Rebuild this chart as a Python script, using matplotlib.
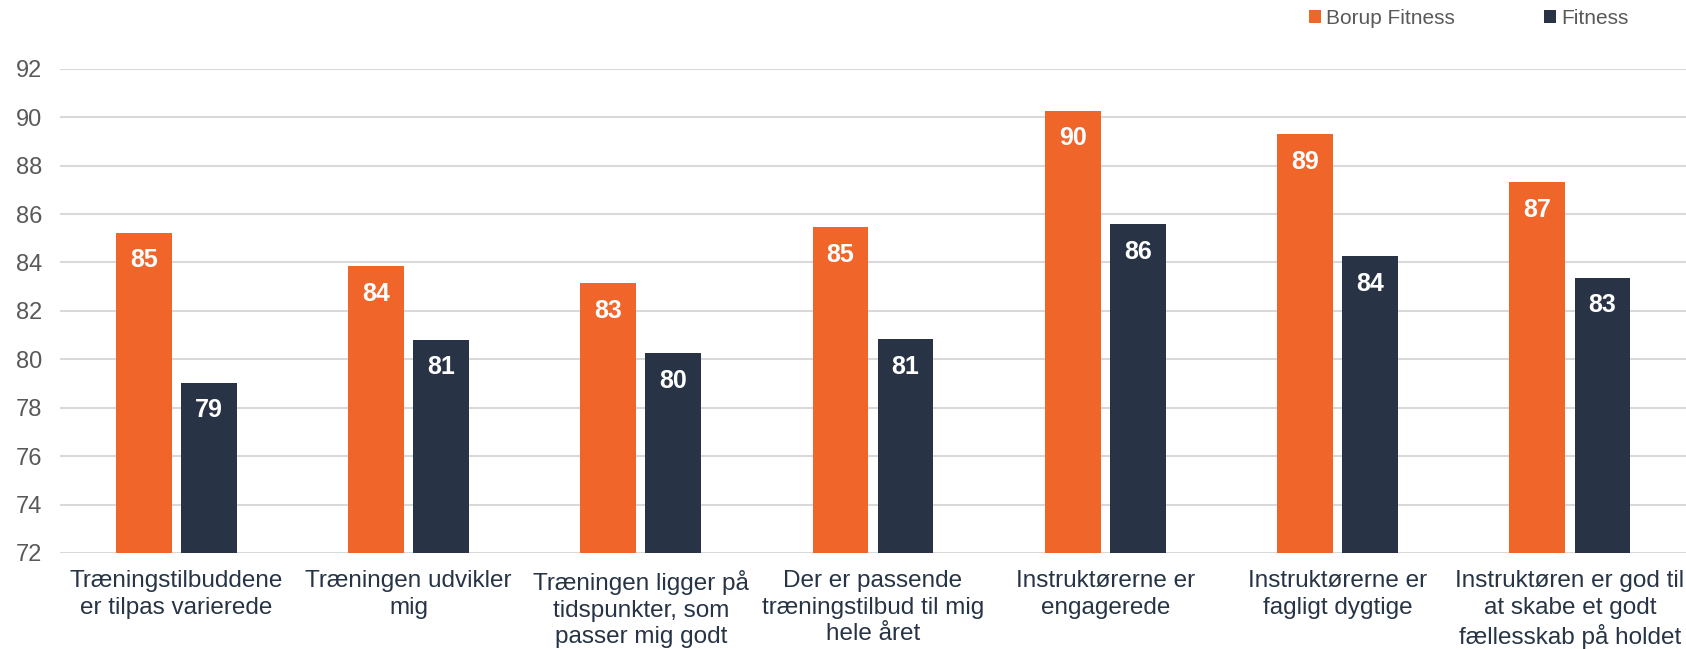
import numpy as np
import matplotlib
matplotlib.use("Agg")
import matplotlib.pyplot as plt

categories = [
    "Træningstilbuddene\ner tilpas varierede",
    "Træningen udvikler\nmig",
    "Træningen ligger på\ntidspunkter, som\npasser mig godt",
    "Der er passende\ntræningstilbud til mig\nhele året",
    "Instruktørerne er\nengagerede",
    "Instruktørerne er\nfagligt dygtige",
    "Instruktøren er god til\nat skabe et godt\nfællesskab på holdet",
]
borup = [85.23, 83.86, 83.15, 85.45, 90.27, 89.3, 87.31]
fitness = [79.04, 80.81, 80.27, 80.83, 85.58, 84.26, 83.37]
series_names = ["Borup Fitness", "Fitness"]
yticks = [72, 74, 76, 78, 80, 82, 84, 86, 88, 90, 92]

orange = "#F0652A"
navy = "#283445"

plt.rcParams["font.family"] = ["Liberation Sans", "DejaVu Sans"]

fig = plt.figure(figsize=(16.86, 6.49), dpi=100)
ax = fig.add_axes([0.0356, 0.148, 0.9644, 0.746])

x = np.arange(len(categories))
w = 0.24
b1 = ax.bar(x - 0.14, borup, w, color=orange, label=series_names[0], zorder=3)
b2 = ax.bar(x + 0.14, fitness, w, color=navy, label=series_names[1], zorder=3)

for bars, vals in ((b1, borup), (b2, fitness)):
    for rect, v in zip(bars, vals):
        ax.annotate(f"{v:.0f}", (rect.get_x() + rect.get_width() / 2, v),
                    xytext=(0, -20), textcoords="offset points",
                    ha="center", va="center", color="white",
                    fontsize=18, fontweight="bold", zorder=4)

ax.set_xlim(-0.5, len(categories) - 0.5)
ax.set_ylim(72, 92)
ax.set_yticks(yticks)
ax.set_xticks(x)
ax.set_xticklabels(categories, fontsize=17.5, color="#263445", linespacing=1.29)
ax.tick_params(axis="y", labelsize=17, colors="#595959", length=0, pad=13)
ax.tick_params(axis="x", length=0, pad=12)
ax.grid(axis="y", color="#D9D9D9", linewidth=1.5, zorder=0)
for s in ax.spines.values():
    s.set_visible(False)

leg = fig.legend(handles=[b1, b2], loc="center right", bbox_to_anchor=(0.977, 0.972),
                 ncol=2, frameon=False, fontsize=15, handlelength=0.55,
                 handleheight=0.55, handletextpad=0.25, columnspacing=4.3,
                 labelcolor="#595959")

fig.savefig("out.png", dpi=100)
